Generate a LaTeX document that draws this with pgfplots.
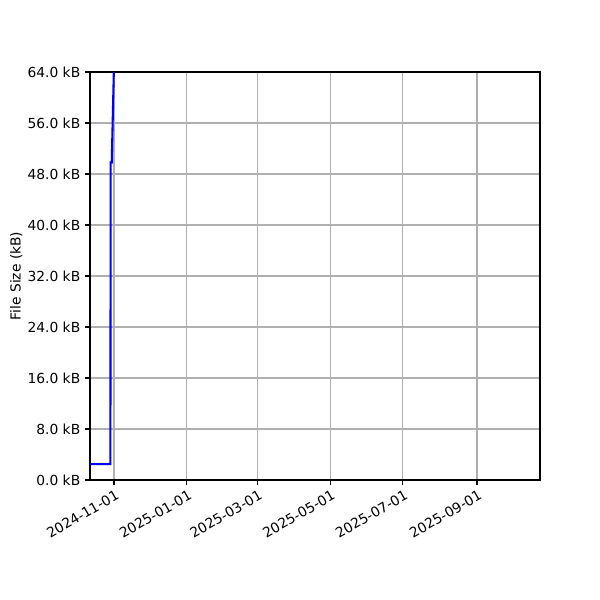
\documentclass[border=0pt]{standalone}
\usepackage{fontspec}
\setmainfont{DejaVu Sans}
\usepackage{pgfplots}
\pgfplotsset{compat=1.18}
\begin{document}
\begin{tikzpicture}
\useasboundingbox (0,0) rectangle (6in,6in);
\begin{axis}[
  at={(0.9in,1.2in)}, anchor=south west,
  scale only axis, width=4.5in, height=4.08in,
  xmin=-20.1, xmax=356.8, ymin=0, ymax=64,
  /pgf/number format/assume math mode=true,
  font=\fontsize{10}{12}\selectfont,
  xtick={0,61,120,181,242,304},
  xticklabels={2024-11-01,2025-01-01,2025-03-01,2025-05-01,2025-07-01,2025-09-01},
  xticklabel style={rotate=30, anchor=north east, inner sep=1pt, yshift=-2pt},
  ytick={0,8,16,24,32,40,48,56,64},
  yticklabel={\pgfmathprintnumber[fixed,fixed zerofill,precision=1]{\tick} kB},
  ylabel={File Size (kB)},
  ylabel style={at={(axis description cs:-0.164,0.5)}, anchor=center},
  grid=major, grid style={color=black!31, line width=0.8pt},
  tick align=outside, tick pos=left,
  major tick length=3.5pt,
  tick style={black, line width=0.8pt},
  axis line style={line width=0.8pt},
  clip=true,
]
\addplot[blue, line width=1.5pt, mark=none] coordinates {
(-20.1,2.5) (-3.0,2.5) (-2.8,49.8) (-1.9,49.8) (0.1,66)
};
\end{axis}
\end{tikzpicture}
\end{document}
